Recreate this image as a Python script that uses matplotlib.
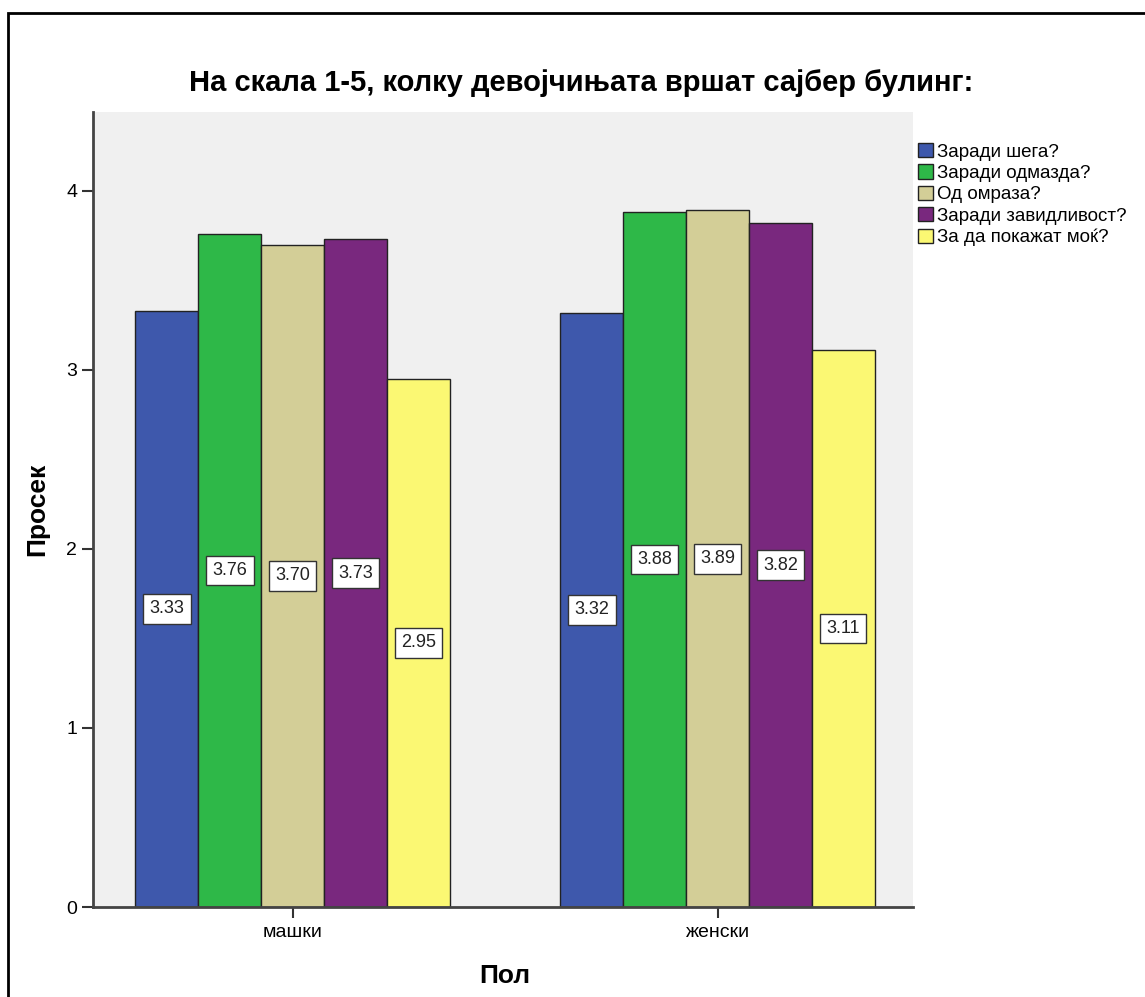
import matplotlib.pyplot as plt
import numpy as np
from matplotlib.patches import Rectangle

plt.rcParams['font.family'] = ['Liberation Sans', 'DejaVu Sans']

# data
groups = ['машки', 'женски']
series = ['Заради шега?', 'Заради одмазда?', 'Од омраза?',
          'Заради завидливост?', 'За да покажат моќ?']
values = [[3.33, 3.32],
          [3.76, 3.88],
          [3.70, 3.89],
          [3.73, 3.82],
          [2.95, 3.11]]
colors = ['#3e58ac', '#2eb848', '#d3ce97', '#79287e', '#fbf873']

fig = plt.figure(figsize=(11.45, 9.97), dpi=100)
ax = fig.add_axes([93/1145, 1 - 907/997, (913-93)/1145, (907-112)/997])
ax.set_facecolor('#f0f0f0')

# outer frame of the chart
fig.patches.append(Rectangle((8/1145, -0.05), 1.1, 1 - 13/997 + 0.05,
                             transform=fig.transFigure, fill=False,
                             edgecolor='black', linewidth=2))

x = np.arange(len(groups))
w = 0.148
for i, (name, vals) in enumerate(zip(series, values)):
    pos = x + (i - 2) * w
    ax.bar(pos, vals, w, color=colors[i], edgecolor='#222222',
           linewidth=1, label=name, zorder=2)
    for p, v in zip(pos, vals):
        ax.text(p, v / 2, f'{v:.2f}', ha='center', va='center', fontsize=13,
                color='#222222', zorder=3,
                bbox=dict(boxstyle='square,pad=0.35', facecolor='white',
                          edgecolor='#333333', linewidth=1))

ax.set_xlim(-0.47, 1.46)
ax.set_ylim(0, 4.44)
ax.set_yticks([0, 1, 2, 3, 4])
ax.set_xticks(x)
ax.set_xticklabels(groups, fontsize=14)
ax.tick_params(axis='y', labelsize=14, length=8, width=1.5, color='#333333')
ax.tick_params(axis='x', length=8, width=1.5, color='#333333', pad=4)
for side in ['top', 'right']:
    ax.spines[side].set_visible(False)
for side in ['left', 'bottom']:
    ax.spines[side].set_linewidth(2)
    ax.spines[side].set_color('#444444')

ax.set_ylabel('Просек', fontsize=19, fontweight='bold')
ax.yaxis.set_label_coords(-0.053, 0.5)
ax.set_xlabel('Пол', fontsize=19, fontweight='bold')
ax.xaxis.set_label_coords(0.502, -0.072)
fig.text(581/1145, 1 - 83/997, 'На скала 1-5, колку девојчињата вршат сајбер булинг:',
         ha='center', va='center', fontsize=21, fontweight='bold')

leg = ax.legend(loc='upper left', bbox_to_anchor=(0.995, 0.973), frameon=False,
                fontsize=13.5, handlelength=0.8, handleheight=0.8,
                handletextpad=0.2, labelspacing=0.2, borderaxespad=0.1)

fig.savefig('out.png', dpi=100)
